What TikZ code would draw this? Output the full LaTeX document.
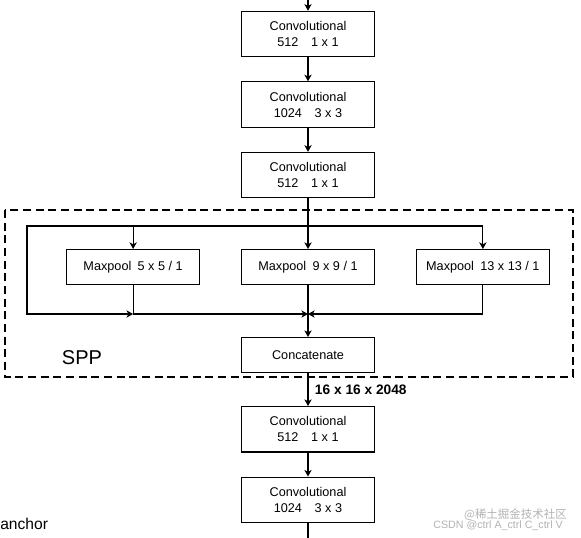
\documentclass[tikz,border=0pt]{standalone}
\usepackage{fontspec}
\setmainfont{Liberation Sans}
\newfontfamily\cjk{Noto Sans CJK SC}
\usepackage{tikz}
\usepackage{xcolor}
\usetikzlibrary{positioning, arrows.meta, calc}

\begin{document}
\begin{tikzpicture}[
    x=0.75pt, y=-0.75pt,
    font=\fontsize{9.5}{12}\selectfont,
    >=Stealth,
    node distance=18pt and 30.5pt,
    box/.style={
        rectangle,
        draw=black,
        line width=0.9pt,
        align=center,
        inner sep=0pt,
        minimum width=99.75pt
    },
    conv/.style={box, minimum height=34pt},
    pool/.style={box, minimum height=26.1pt},
    arrow/.style={-{Stealth[length=5pt, width=5.5pt, inset=1.5pt]}, line width=0.8pt},
    group/.style={dashed, dash pattern=on 6pt off 3.5pt, line width=1pt},
    wmark/.style={text=gray!60, inner sep=0pt}
]
\useasboundingbox (0,0) rectangle (581,538);

% main column
\node[conv] (conv1) at (308,34) {Convolutional\\512\quad1 x 1};
\node[conv, below=of conv1] (conv2) {Convolutional\\1024\quad3 x 3};
\node[conv, below=of conv2] (conv3) {Convolutional\\512\quad1 x 1};

% SPP block
\node[pool, below=38pt of conv3] (poolB) {Maxpool\enspace 9 x 9 / 1};
\node[pool, left=of poolB] (poolA) {Maxpool\enspace 5 x 5 / 1};
\node[pool, right=of poolB] (poolC) {Maxpool\enspace 13 x 13 / 1};
\node[pool, below=39pt of poolB] (concat) {Concatenate};

\node[conv, below=24.75pt of concat] (conv4) {Convolutional\\512\quad1 x 1};
\node[conv, below=of conv4] (conv5) {Convolutional\\1024\quad3 x 3};

\coordinate (in) at (308,0);
\coordinate (out) at (308,538);
\coordinate (split) at (308,226);
\coordinate (merge) at (308,314);
\coordinate (bytop) at (27,226);
\coordinate (bybot) at (27,314);

\draw[group] (5,210) rectangle (573,377);
\node[font=\fontsize{15}{18}\selectfont] (spp) at (82,358) {SPP};

\draw[arrow] (in) -- (conv1);
\draw[arrow] (conv1) -- (conv2);
\draw[arrow] (conv2) -- (conv3);
\draw[arrow] (conv3) -- (poolB);
\draw[arrow] (split) -| (poolA.north);
\draw[arrow] (split) -| (poolC.north);
\draw[arrow] (split) -- (bytop) -- (bybot) -- (poolA.south |- merge);
\draw[arrow] (poolA) |- (merge);
\draw[arrow] (poolC) |- (merge);
\draw[arrow] (poolB) -- (concat);
\draw[arrow] (concat) -- node[right, xshift=1.5pt, font=\fontsize{10.3}{12}\bfseries] {16 x 16 x 2048} (conv4);
\draw[arrow] (conv4) -- (conv5);
\draw[line width=0.8pt] (conv5) -- (out);

\node[anchor=west, inner sep=0pt, font=\fontsize{11.7}{14}\selectfont] (anchor) at (0,524) {anchor};

% watermark
\node[wmark, anchor=east, font=\cjk\fontsize{8.6}{10}\selectfont] (wm1) at (567,514.5) {@稀土掘金技术社区};
\node[wmark, anchor=east, font=\fontsize{8}{9}\selectfont] (wm2) at (563,525.5) {CSDN @ctrl A\_ctrl C\_ctrl V};

\end{tikzpicture}
\end{document}
